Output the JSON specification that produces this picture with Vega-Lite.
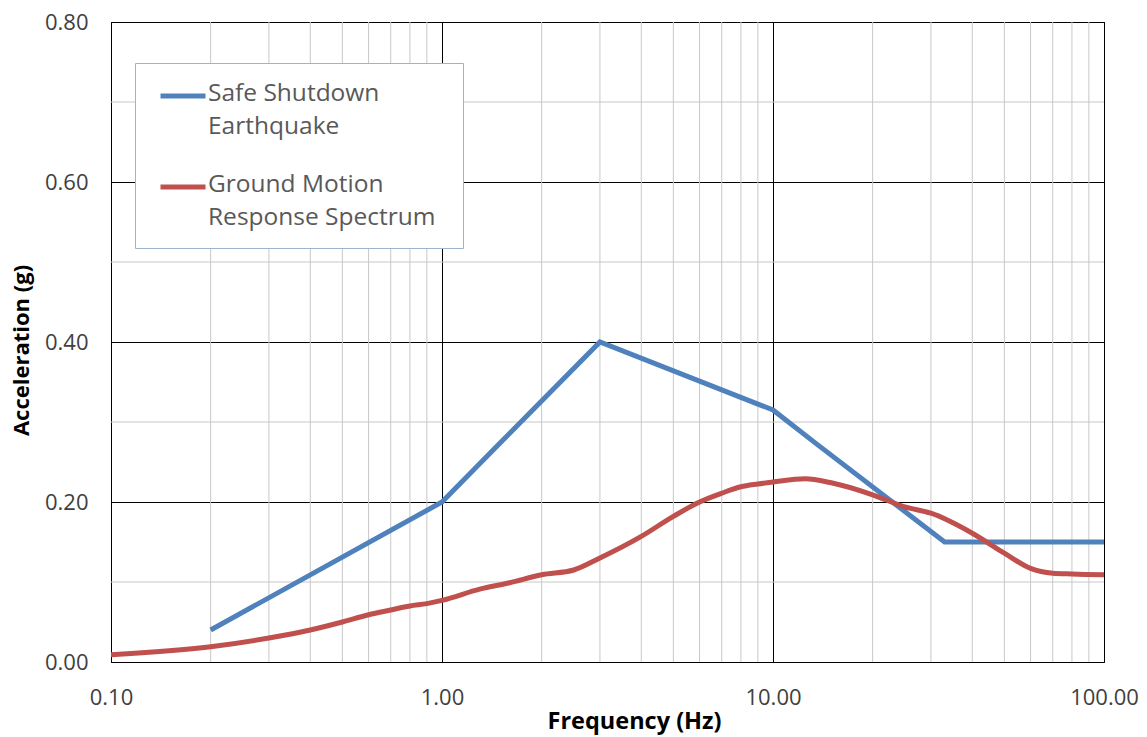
{
  "$schema": "https://vega.github.io/schema/vega-lite/v6.json",
  "width": 993,
  "height": 640,
  "autosize": {"type": "none"},
  "padding": {"left": 111, "top": 22, "right": 43, "bottom": 75},
  "background": "white",
  "config": {
    "view": {"stroke": "black", "strokeWidth": 1},
    "font": "Open Sans"
  },
  "datasets": {
    "curves": [
      {"f": 0.2, "a": 0.04, "series": "Safe Shutdown Earthquake"},
      {"f": 1.0, "a": 0.2, "series": "Safe Shutdown Earthquake"},
      {"f": 1.5, "a": 0.274, "series": "Safe Shutdown Earthquake"},
      {"f": 3.0, "a": 0.4, "series": "Safe Shutdown Earthquake"},
      {"f": 10.0, "a": 0.315, "series": "Safe Shutdown Earthquake"},
      {"f": 13.5, "a": 0.273, "series": "Safe Shutdown Earthquake"},
      {"f": 33.0, "a": 0.15, "series": "Safe Shutdown Earthquake"},
      {"f": 100.0, "a": 0.15, "series": "Safe Shutdown Earthquake"},
      {"f": 0.1, "a": 0.009, "series": "Ground Motion Response Spectrum"},
      {"f": 0.2, "a": 0.019, "series": "Ground Motion Response Spectrum"},
      {"f": 0.3, "a": 0.03, "series": "Ground Motion Response Spectrum"},
      {"f": 0.4, "a": 0.04, "series": "Ground Motion Response Spectrum"},
      {"f": 0.5, "a": 0.05, "series": "Ground Motion Response Spectrum"},
      {"f": 0.6, "a": 0.059, "series": "Ground Motion Response Spectrum"},
      {"f": 0.7, "a": 0.065, "series": "Ground Motion Response Spectrum"},
      {"f": 0.8, "a": 0.07, "series": "Ground Motion Response Spectrum"},
      {"f": 0.9, "a": 0.073, "series": "Ground Motion Response Spectrum"},
      {"f": 1.0, "a": 0.077, "series": "Ground Motion Response Spectrum"},
      {"f": 1.3, "a": 0.091, "series": "Ground Motion Response Spectrum"},
      {"f": 1.6, "a": 0.099, "series": "Ground Motion Response Spectrum"},
      {"f": 2.0, "a": 0.109, "series": "Ground Motion Response Spectrum"},
      {"f": 2.5, "a": 0.115, "series": "Ground Motion Response Spectrum"},
      {"f": 3.0, "a": 0.13, "series": "Ground Motion Response Spectrum"},
      {"f": 4.0, "a": 0.157, "series": "Ground Motion Response Spectrum"},
      {"f": 5.0, "a": 0.182, "series": "Ground Motion Response Spectrum"},
      {"f": 6.0, "a": 0.2, "series": "Ground Motion Response Spectrum"},
      {"f": 7.0, "a": 0.211, "series": "Ground Motion Response Spectrum"},
      {"f": 8.0, "a": 0.219, "series": "Ground Motion Response Spectrum"},
      {"f": 9.0, "a": 0.2225, "series": "Ground Motion Response Spectrum"},
      {"f": 10.0, "a": 0.225, "series": "Ground Motion Response Spectrum"},
      {"f": 12.5, "a": 0.229, "series": "Ground Motion Response Spectrum"},
      {"f": 15.0, "a": 0.224, "series": "Ground Motion Response Spectrum"},
      {"f": 20.0, "a": 0.209, "series": "Ground Motion Response Spectrum"},
      {"f": 25.0, "a": 0.194, "series": "Ground Motion Response Spectrum"},
      {"f": 30.0, "a": 0.186, "series": "Ground Motion Response Spectrum"},
      {"f": 40.0, "a": 0.161, "series": "Ground Motion Response Spectrum"},
      {"f": 50.0, "a": 0.136, "series": "Ground Motion Response Spectrum"},
      {"f": 60.0, "a": 0.117, "series": "Ground Motion Response Spectrum"},
      {"f": 70.0, "a": 0.111, "series": "Ground Motion Response Spectrum"},
      {"f": 80.0, "a": 0.11, "series": "Ground Motion Response Spectrum"},
      {"f": 100.0, "a": 0.109, "series": "Ground Motion Response Spectrum"}
    ],
    "gridx": [
      {"f": 0.2}, {"f": 0.3}, {"f": 0.4}, {"f": 0.5}, {"f": 0.6}, {"f": 0.7}, {"f": 0.8}, {"f": 0.9},
      {"f": 2}, {"f": 3}, {"f": 4}, {"f": 5}, {"f": 6}, {"f": 7}, {"f": 8}, {"f": 9},
      {"f": 20}, {"f": 30}, {"f": 40}, {"f": 50}, {"f": 60}, {"f": 70}, {"f": 80}, {"f": 90}
    ],
    "gridy": [{"a": 0.1}, {"a": 0.3}, {"a": 0.5}, {"a": 0.7}]
  },
  "layer": [
    {
      "data": {"name": "gridx"},
      "mark": {"type": "rule", "color": "#c8c8c8", "strokeWidth": 1},
      "encoding": {
        "x": {"field": "f", "type": "quantitative", "title": "Frequency (Hz)",
              "scale": {"type": "log", "domain": [0.1, 100], "nice": false}}
      }
    },
    {
      "data": {"name": "gridy"},
      "mark": {"type": "rule", "color": "#c8c8c8", "strokeWidth": 1},
      "encoding": {
        "y": {"field": "a", "type": "quantitative", "title": "Acceleration (g)",
              "scale": {"domain": [0, 0.8], "nice": false}}
      }
    },
    {
      "data": {"name": "curves"},
      "transform": [{"filter": "datum.series == 'Safe Shutdown Earthquake'"}],
      "mark": {"type": "line", "strokeWidth": 5, "interpolate": "linear"},
      "encoding": {
        "x": {"field": "f", "type": "quantitative", "title": "Frequency (Hz)",
              "scale": {"type": "log", "domain": [0.1, 100], "nice": false},
              "axis": {"values": [0.1, 1, 10, 100], "format": ".2f", "grid": true, "gridColor": "black", "gridOpacity": 1, "gridWidth": 1,
                       "ticks": false, "tickSize": 0, "domain": false, "labelFontSize": 22, "labelColor": "#404040", "labelPadding": 25,
                       "titleFontSize": 23.5, "titleFontWeight": "bold", "titleColor": "#000000", "titlePadding": 1, "titleX": 523, "labelFlush": false}},
        "y": {"field": "a", "type": "quantitative", "title": "Acceleration (g)",
              "scale": {"domain": [0, 0.8], "nice": false},
              "axis": {"values": [0, 0.2, 0.4, 0.6, 0.8], "format": ".2f", "grid": true, "gridColor": "black", "gridOpacity": 1, "gridWidth": 1,
                       "ticks": false, "tickSize": 0, "domain": false, "labelFontSize": 22, "labelColor": "#404040", "labelPadding": 23,
                       "titleFontSize": 22, "titleFontWeight": "bold", "titleColor": "#000000", "titlePadding": 11, "titleY": 328}},
        "color": {"field": "series", "type": "nominal",
                  "scale": {"domain": ["Safe Shutdown Earthquake", "Ground Motion Response Spectrum"], "range": ["#4F81BD", "#C0504D"]},
                  "legend": {"orient": "none", "legendX": 24, "legendY": 41, "title": " ", "titleOrient": "right", "titleFontSize": 171, "titleBaseline": "top", "titleAnchor": "start", "titlePadding": 20,
                             "fillColor": "white", "strokeColor": "#9db3cb", "padding": 8, "symbolOffset": 15,
                             "symbolType": "stroke", "symbolSize": 2025, "symbolStrokeWidth": 5,
                             "labelFont": "Open Sans", "labelFontSize": 24.5, "labelColor": "#595959", "labelOffset": 0,
                             "labelLimit": 400, "rowPadding": 23, "labelBaseline": "top",
                             "labelExpr": "datum.label == 'Safe Shutdown Earthquake' ? ['Safe Shutdown', 'Earthquake'] : ['Ground Motion', 'Response Spectrum']",
                             "encode": {"labels": {"update": {"lineHeight": {"value": 33}, "dy": {"value": -14}}}}}}
      }
    },
    {
      "data": {"name": "curves"},
      "transform": [{"filter": "datum.series == 'Ground Motion Response Spectrum'"}],
      "mark": {"type": "line", "strokeWidth": 5, "interpolate": "monotone"},
      "encoding": {
        "x": {"field": "f", "type": "quantitative", "title": "Frequency (Hz)",
              "scale": {"type": "log", "domain": [0.1, 100], "nice": false}},
        "y": {"field": "a", "type": "quantitative", "title": "Acceleration (g)",
              "scale": {"domain": [0, 0.8], "nice": false}},
        "color": {"field": "series", "type": "nominal",
                  "scale": {"domain": ["Safe Shutdown Earthquake", "Ground Motion Response Spectrum"], "range": ["#4F81BD", "#C0504D"]}}
      }
    }
  ]
}
